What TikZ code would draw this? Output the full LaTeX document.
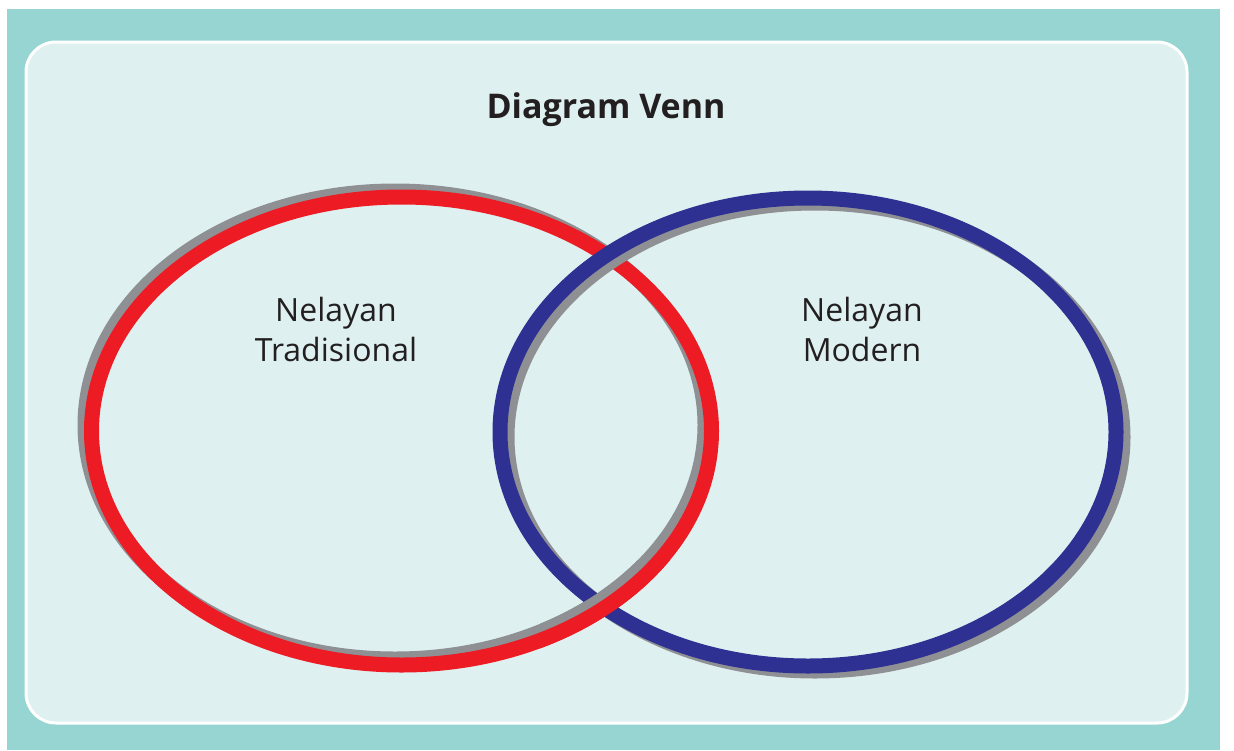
\documentclass[tikz,border=0pt]{standalone}
\usepackage{fontspec}
\setmainfont{Open Sans}
\definecolor{outerteal}{HTML}{96D5D1}
\definecolor{innerteal}{HTML}{DEF1F0}
\definecolor{ringred}{HTML}{ED1C24}
\definecolor{ringblue}{HTML}{2E3192}
\definecolor{ringgray}{HTML}{8F9094}
\definecolor{textdark}{HTML}{231F20}
\tikzset{
  ring/.style={line width=15pt},
  shadowring/.style={line width=15pt, draw=ringgray},
  label/.style={font=\fontsize{32}{40}\selectfont, text=textdark, align=center},
}
\begin{document}
\begin{tikzpicture}[x=1pt,y=-1pt]
\useasboundingbox (0,0) rectangle (1234,750);
\fill[white] (0,0) rectangle (1234,750);
\fill[outerteal] (7,9) rectangle (1220,750);
\draw[white, line width=3pt, fill=innerteal, rounded corners=30pt] (26,42) rectangle (1187,723);
% red ring
\draw[shadowring] (395,425) ellipse [x radius=310, y radius=234];
\draw[ring, draw=ringred] (401.5,431) ellipse [x radius=310, y radius=234];
% blue ring
\draw[shadowring] (815,437) ellipse [x radius=308, y radius=234];
\draw[ring, draw=ringblue] (808,432) ellipse [x radius=308, y radius=234];
% red over blue at the lower crossing
\begin{scope}
\clip (540,560) rectangle (680,680);
\draw[shadowring] (395,425) ellipse [x radius=310, y radius=234];
\draw[ring, draw=ringred] (401.5,431) ellipse [x radius=310, y radius=234];
\end{scope}
\node[font=\fontsize{34}{40}\selectfont\bfseries, text=textdark] (title) at (606,110) {Diagram Venn};
\node[label] (trad) at (336,329) {Nelayan\\Tradisional};
\node[label] (mod) at (862,329) {Nelayan\\Modern};
\end{tikzpicture}
\end{document}
